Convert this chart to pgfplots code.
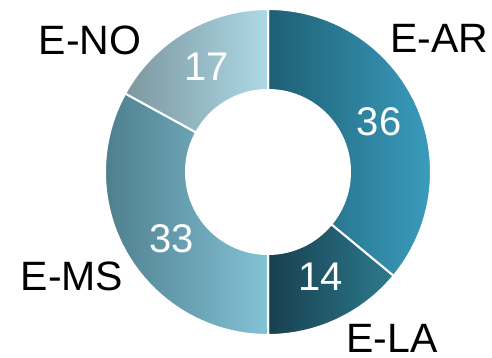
\documentclass[border=0pt]{standalone}
\usepackage{pgfplots}
\usepackage{pgfplotstable}
\usepackage{fontspec}
\setmainfont{Liberation Sans}
\pgfplotsset{compat=1.18}

\definecolor{arL}{HTML}{1E5F74}\definecolor{arR}{HTML}{3A9CBD}
\definecolor{laL}{HTML}{173F4F}\definecolor{laR}{HTML}{2D7A8E}
\definecolor{msL}{HTML}{4E7F8E}\definecolor{msR}{HTML}{84C2D6}
\definecolor{noL}{HTML}{7C979F}\definecolor{noR}{HTML}{ADD9E6}

% label, value, gradient colours, label position, value position (picture units)
\pgfplotstableread{
label value lc rc lx ly vx vy
E-AR 36 arL arR 439 319 379 235
E-LA 14 laL laR 392 19 321 80
E-MS 33 msL msR 72 81 172 118
E-NO 17 noL noR 90 317 207 290
}\datatable

\def\cx{268}\def\cy{185}\def\Rout{163}\def\Rin{82}

\begin{document}
\begin{tikzpicture}
\def\cum{0}
\pgfplotsforeachungrouped \i in {0,1,2,3}{%
  \pgfplotstablegetelem{\i}{value}\of\datatable \let\v\pgfplotsretval
  \pgfmathsetmacro{\as}{90-3.6*\cum}%
  \pgfmathsetmacro{\ae}{90-3.6*(\cum+\v)}%
  \expandafter\xdef\csname as\i\endcsname{\as}%
  \expandafter\xdef\csname ae\i\endcsname{\ae}%
  \expandafter\xdef\csname val\i\endcsname{\v}%
  \pgfmathsetmacro{\newcum}{\cum+\v}\xdef\cum{\newcum}%
  \pgfplotstablegetelem{\i}{label}\of\datatable \expandafter\xdef\csname lab\i\endcsname{\pgfplotsretval}%
  \pgfplotstablegetelem{\i}{lc}\of\datatable \expandafter\xdef\csname lc\i\endcsname{\pgfplotsretval}%
  \pgfplotstablegetelem{\i}{rc}\of\datatable \expandafter\xdef\csname rc\i\endcsname{\pgfplotsretval}%
  \pgfplotstablegetelem{\i}{lx}\of\datatable \expandafter\xdef\csname lx\i\endcsname{\pgfplotsretval}%
  \pgfplotstablegetelem{\i}{ly}\of\datatable \expandafter\xdef\csname ly\i\endcsname{\pgfplotsretval}%
  \pgfplotstablegetelem{\i}{vx}\of\datatable \expandafter\xdef\csname vx\i\endcsname{\pgfplotsretval}%
  \pgfplotstablegetelem{\i}{vy}\of\datatable \expandafter\xdef\csname vy\i\endcsname{\pgfplotsretval}%
}
\path[use as bounding box] (0,0) rectangle (492pt,357pt);
\begin{axis}[at={(0,0)}, anchor=south west, x=1pt, y=1pt,
  xmin=0, xmax=492, ymin=0, ymax=357, hide axis, clip=false]
\pgfplotsinvokeforeach{0,1,2,3}{%
  \edef\cmd{\noexpand\path[draw=white, line width=2pt,
     left color=\csname lc#1\endcsname, right color=\csname rc#1\endcsname]
     (axis cs:\cx,\cy) ++(\csname as#1\endcsname:\Rout pt)
     arc[start angle=\csname as#1\endcsname, end angle=\csname ae#1\endcsname, radius=\Rout pt]
     -- ([shift={(\csname ae#1\endcsname:\Rin pt)}]axis cs:\cx,\cy)
     arc[start angle=\csname ae#1\endcsname, end angle=\csname as#1\endcsname, radius=\Rin pt]
     -- cycle;}%
  \cmd
  \edef\cmd{\noexpand\node[font=\noexpand\fontsize{41}{41}\noexpand\selectfont, text=black]
     at (axis cs:\csname lx#1\endcsname,\csname ly#1\endcsname) {\csname lab#1\endcsname};}%
  \cmd
  \edef\cmd{\noexpand\node[font=\noexpand\fontsize{40}{40}\noexpand\selectfont, text=white]
     at (axis cs:\csname vx#1\endcsname,\csname vy#1\endcsname) {\csname val#1\endcsname};}%
  \cmd
}
\end{axis}
\end{tikzpicture}
\end{document}
